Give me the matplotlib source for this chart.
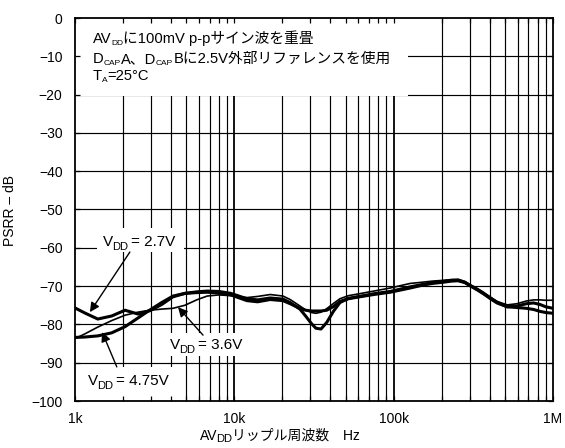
import matplotlib
matplotlib.use('Agg')
import matplotlib.pyplot as plt
from matplotlib.patches import Rectangle
from matplotlib.transforms import offset_copy

FAM = ['Liberation Sans', 'Noto Sans CJK JP', 'DejaVu Sans']
plt.rcParams['font.family'] = FAM
plt.rcParams['axes.unicode_minus'] = True

# ---------------- data ----------------
freq_hz = [1000, 1150, 1390, 1700, 2060, 2490, 2960, 3500, 4120, 4900,
           5800, 6750, 8000, 9500, 12000, 14000, 16800, 20200, 22400, 25800,
           28000, 30500, 32500, 35000, 38000, 42000, 46000, 52000, 59000, 75000,
           95000, 127000, 150000, 175000, 204000, 230000, 254000, 280000, 301000, 335000,
           366000, 405000, 445000, 516000, 595000, 680000, 755000, 829000, 900000, 1000000]

psrr_2v7 = [-75.7, -77.0, -78.6, -77.8, -76.3, -77.3, -76.4, -74.8, -72.8, -71.9,
            -71.5, -71.3, -71.4, -71.9, -73.3, -73.6, -73.1, -73.4, -74.3, -76.0,
            -77.8, -79.8, -81.0, -81.2, -79.5, -76.5, -74.3, -73.2, -72.8, -72.0,
            -71.4, -70.2, -69.6, -69.1, -68.8, -68.5, -68.5, -69.0, -69.8, -70.9,
            -71.9, -73.1, -74.2, -75.4, -75.6, -75.8, -76.1, -76.6, -76.9, -77.1]

psrr_3v6 = [-83.7, -82.5, -80.7, -79.0, -77.6, -76.8, -76.3, -76.0, -75.8, -75.0,
            -73.6, -72.6, -72.3, -72.5, -73.0, -72.7, -72.2, -72.6, -73.5, -75.2,
            -76.2, -76.9, -77.1, -76.8, -75.9, -74.5, -73.3, -72.5, -72.1, -71.3,
            -70.5, -69.3, -69.0, -68.7, -68.5, -68.3, -68.2, -68.8, -69.6, -70.6,
            -71.6, -72.9, -74.0, -74.9, -74.6, -73.9, -73.6, -73.6, -73.7, -73.7]

psrr_4v75 = [-83.4, -83.3, -83.0, -82.2, -80.6, -78.3, -76.2, -74.3, -72.6, -71.9,
             -71.7, -71.6, -71.8, -72.3, -73.8, -74.1, -73.5, -73.8, -74.6, -75.8,
             -76.3, -76.5, -76.5, -76.5, -76.3, -75.3, -74.0, -73.3, -72.9, -72.2,
             -71.6, -70.5, -69.8, -69.3, -69.0, -68.7, -68.6, -69.1, -69.9, -71.0,
             -72.0, -73.3, -74.4, -75.4, -75.2, -74.6, -74.4, -74.8, -75.4, -75.8]

y_ticks = [0, -10, -20, -30, -40, -50, -60, -70, -80, -90, -100]
y_tick_labels = ['0', '\u221210', '\u221220', '\u221230', '\u221240', '\u221250',
                 '\u221260', '\u221270', '\u221280', '\u221290', '\u2212100']
x_ticks = [1e3, 1e4, 1e5, 1e6]
x_tick_labels = ['1k', '10k', '100k', '1M']
decades = [1e3, 1e4, 1e5]
minor_mult = [2, 3, 4, 5, 6, 7, 8, 9]

# ---------------- figure ----------------
W, H = 565, 448
fig = plt.figure(figsize=(W / 100, H / 100), dpi=100)
L, R, T, B = 75, 553, 18, 401
ax = fig.add_axes([L / W, 1 - B / H, (R - L) / W, (B - T) / H])
ax.set_xscale('log')
ax.set_xlim(1e3, 1e6)
ax.set_ylim(-100, 0)


def axf(px, py):
    return ((px - L) / (R - L), (B - py) / (B - T))


# grid
for yv in y_ticks[1:-1]:
    ax.axhline(yv, color='black', lw=0.85, zorder=0.5)
for d in decades:
    for m in minor_mult:
        ax.axvline(d * m, color='black', lw=0.85, zorder=0.5)
for xv in x_ticks[1:-1]:
    ax.axvline(xv, color='black', lw=1.3, zorder=0.5)

# white label backgrounds covering the grid
def white_box(x0, y0, x1, y1):
    ax0, ay1 = axf(x0, y0)
    ax1, ay0 = axf(x1, y1)
    ax.add_patch(Rectangle((ax0, ay0), ax1 - ax0, ay1 - ay0, transform=ax.transAxes,
                           facecolor='white', edgecolor='none', zorder=1))

white_box(L, T, 408, 96)
white_box(97, 228, 184, 252)
white_box(166, 333, 253, 356)
white_box(84, 367, 180, B)

# curves
ax.plot(freq_hz, psrr_4v75, color='black', lw=2.2, zorder=2, solid_joinstyle='round')
ax.plot(freq_hz, psrr_3v6, color='black', lw=1.2, zorder=2.1, solid_joinstyle='round')
ax.plot(freq_hz, psrr_2v7, color='black', lw=2.2, zorder=2.2, solid_joinstyle='round')

# ticks
ax.set_yticks(y_ticks)
ax.set_yticklabels(y_tick_labels)
ax.set_xticks(x_ticks)
ax.set_xticklabels(x_tick_labels)
ax.set_xticks([d * m for d in decades for m in minor_mult], minor=True)
ax.xaxis.set_minor_formatter(plt.NullFormatter())
ax.tick_params(axis='both', which='both', direction='in', length=3.8, width=0.9,
               top=True, right=True, labelsize=10, colors='black')
ax.tick_params(axis='x', which='major', pad=8)
ax.tick_params(axis='y', which='major', pad=9)
for s in ax.spines.values():
    s.set_linewidth(1.3)
    s.set_zorder(3)

renderer = fig.canvas.get_renderer()


def rich(x, y, segs, base_tr, center=False):
    # segs: (text, fontsize, baseline shift px, gap before px)
    items = []
    for s, size, dy, gap in segs:
        t = fig.text(0, 0, s, fontsize=size, va='baseline', ha='left', zorder=6,
                     color='black', family=FAM)
        w = t.get_window_extent(renderer).width
        items.append((t, dy, w, gap))
    total = sum(w + g for _, _, w, g in items)
    cur = -total / 2 if center else 0.0
    for t, dy, w, gap in items:
        cur += gap
        t.set_position((x, y))
        t.set_transform(offset_copy(base_tr, fig=fig, x=cur, y=dy, units='dots'))
        cur += w
    return items


def pxfig(px, py):
    return (px / W, 1 - py / H)


FS = 10.6
SUB = 6
# main annotation block
rich(*axf(93, 43), [('AV', FS, 0, 0), ('DD', SUB, -2, -0.5), ('に100mV p-pサイン波を重畳', FS, 0, 0)],
     ax.transAxes)
rich(*axf(93, 63), [('D', FS, 0, 0), ('CAP', SUB, -2, -0.5), ('A、D', FS, 0, 0.5), ('CAP', SUB, -2, -0.5),
                    ('Bに2.5V外部リファレンスを使用', FS, 0, 0.5)], ax.transAxes)
rich(*axf(93, 80), [('T', FS, 0, 0), ('A', SUB, -2, -0.5), ('=25°C', FS, 0, 0)], ax.transAxes)

# curve labels
rich(*axf(103, 246), [('V', 11, 0, 0), ('DD', 8, -4, -1), ('= 2.7V', 11, 0, 3)], ax.transAxes)
rich(*axf(170, 349), [('V', 11, 0, 0), ('DD', 8, -4, -1), ('= 3.6V', 11, 0, 3)], ax.transAxes)
rich(*axf(88, 385), [('V', 11, 0, 0), ('DD', 8, -4, -1), ('= 4.75V', 11, 0, 3)], ax.transAxes)

arrow = dict(arrowstyle='-|>', color='black', lw=1.0, mutation_scale=14, shrinkA=0, shrinkB=0)
ax.annotate('', xy=(1240, -76.8), xytext=(2210, -61.1), arrowprops=arrow, zorder=4)
ax.annotate('', xy=(4430, -75.5), xytext=(6360, -82.8), arrowprops=arrow, zorder=4)
ax.annotate('', xy=(1480, -82.0), xytext=(1830, -91.1), arrowprops=arrow, zorder=4)

# axis titles
fig.text(10 / W, 1 - 210 / H, 'PSRR \u2013 dB', rotation=90, fontsize=10,
         ha='center', va='center', family=FAM)
rich(*pxfig(280, 440), [('AV', 10, 0, 0), ('DD', 8, -2, -1), ('リップル周波数　Hz', 10, 0, -0.5)],
     fig.transFigure, center=True)

fig.savefig('out.png', dpi=100)
